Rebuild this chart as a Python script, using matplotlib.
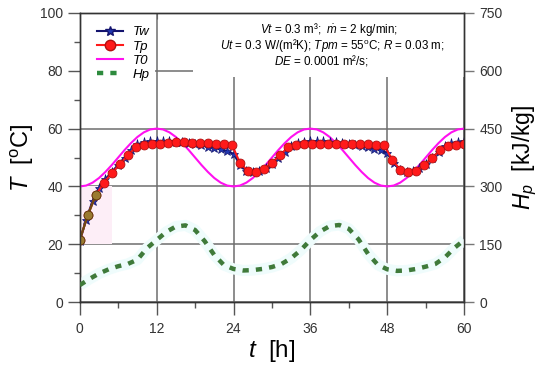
"""Tw / Tp / T0 temperatures and Hp enthalpy over 60 h (twin y axes)."""

import numpy as np
import matplotlib
matplotlib.use("Agg")
import matplotlib.pyplot as plt
from matplotlib.lines import Line2D
from matplotlib.patches import Rectangle

plt.rcParams["font.family"] = ["Liberation Sans", "DejaVu Sans"]
plt.rcParams["mathtext.fontset"] = "custom"
plt.rcParams["mathtext.rm"] = "Liberation Sans"
plt.rcParams["mathtext.it"] = "Liberation Sans:italic"

# --- data ----------------------------------------------------------------
t_w = np.arange(0, 61, 1.0)                     # h
Tw = [21.0, 28.5, 35.0, 39.5, 42.5, 45.0, 47.5, 50.0, 52.5, 54.5,
      55.3, 55.6, 55.7, 55.7, 55.6, 55.4, 55.2, 55.0, 54.6, 54.2,
      53.8, 53.3, 52.8, 52.2, 51.3, 47.5, 45.5, 45.0, 45.2, 46.2,
      47.8, 49.8, 52.0, 54.0, 55.0, 55.4, 55.6, 55.7, 55.6, 55.5,
      55.3, 55.1, 54.8, 54.4, 54.0, 53.6, 53.1, 52.5, 51.6, 48.0,
      45.7, 45.0, 45.2, 46.2, 47.8, 49.8, 52.0, 54.0, 55.0, 55.4, 55.6]

t_p = np.arange(0, 60.01, 1.25)
Tp = [21.5, 30.0, 37.0, 41.2, 44.6, 47.6, 50.8, 53.6, 54.3, 54.6,
      54.8, 55.0, 55.2, 55.2, 55.1, 55.0, 54.9, 54.7, 54.6, 54.4,
      48.2, 45.3, 45.0, 46.0, 48.2, 50.8, 53.6, 54.4, 54.6, 54.7,
      54.8, 54.8, 54.8, 54.8, 54.7, 54.6, 54.5, 54.4, 54.3, 49.3,
      45.8, 45.0, 45.5, 47.3, 50.0, 52.5, 54.0, 54.3, 54.5]

t_0 = np.arange(0, 61, 1.0)
T0 = [40.0, 40.3, 41.3, 42.9, 45.0, 47.4, 50.0, 52.6, 55.0, 57.1,
      58.7, 59.7, 60.0, 59.7, 58.7, 57.1, 55.0, 52.6, 50.0, 47.4,
      45.0, 42.9, 41.3, 40.3, 40.0, 40.3, 41.3, 42.9, 45.0, 47.4,
      50.0, 52.6, 55.0, 57.1, 58.7, 59.7, 60.0, 59.7, 58.7, 57.1,
      55.0, 52.6, 50.0, 47.4, 45.0, 42.9, 41.3, 40.3, 40.0, 40.3,
      41.3, 42.9, 45.0, 47.4, 50.0, 52.6, 55.0, 57.1, 58.7, 59.7, 60.0]

t_h = np.arange(0, 60.01, 1.5)
Hp = [44, 60, 74, 85, 93, 99, 110, 140, 161, 182,
      196, 199, 187, 158, 122, 96, 86, 82, 83, 86,
      91, 99, 114, 135, 161, 183, 197, 200, 190, 163,
      125, 97, 85, 81, 82, 86, 92, 99, 116, 141, 161]   # kJ/kg

NOTE_LINES = ["$Vt$ = 0.3 m³;  $\\dot{m}$ = 2 kg/min;",
              "$Ut$ = 0.3 W/(m²K); $Tpm$ = 55$^{\\mathrm{o}}$C; $R$ = 0.03 m;",
              "$DE$ = 0.0001 m²/s;"]
NOTE_XY = [(0.648, 0.942), (0.656, 0.889), (0.630, 0.834)]   # axes coords

NAVY, STAR = "#14146e", "#2036b0"
RED, REDE = "#ff1a1a", "#b01010"
MAG = "#ff10f0"
GREEN = "#3f7a3a"
GRID = "#6e6e6e"
TXT = "#333333"

fig = plt.figure(figsize=(5.5, 3.8), dpi=100)
ax = fig.add_axes([0.145, 0.205, 0.699, 0.761])
ax2 = ax.twinx()

# faint highlight blocks seen in the original
ax.add_patch(Rectangle((0, 20), 5, 20, color="#fdeef7", lw=0, zorder=0.8))
ax2.plot(t_h, Hp, color="#effcfc", lw=8, solid_capstyle="butt", zorder=1)

ax.plot(t_0, T0, color=MAG, lw=1.5, zorder=3)
ax.plot(t_w, Tw, color=NAVY, lw=1.5, marker="*", ms=6.5, mfc=STAR, mec=NAVY,
        mew=0.5, zorder=4)
ax.plot(t_p, Tp, color=RED, lw=1.5, marker="o", ms=6.4, mfc=RED, mec=REDE,
        mew=0.6, zorder=5)
ax.plot(t_p[:3], Tp[:3], color="#6b4a14", lw=1.6, marker="o", ms=6.4,
        mfc="#9a7a30", mec="#5a3a0a", mew=0.6, zorder=6)

ax2.plot(t_h, Hp, color=GREEN, lw=3.2, ls=(0, (1.4, 1.6)), zorder=3)

# white boxes behind legend and note (they hide the grid)
ax.add_patch(Rectangle((0, 0.76), 0.197, 0.24, transform=ax.transAxes,
                       color="white", lw=0, zorder=1))
ax.add_patch(Rectangle((0.294, 0.78), 0.706, 0.22, transform=ax.transAxes,
                       color="white", lw=0, zorder=1))
ax.set_axisbelow(True)

ax.set_xlim(0, 60)
ax.set_ylim(0, 100)
ax2.set_ylim(0, 750)
ax.set_xticks(range(0, 61, 12))
ax.set_xticks(range(6, 60, 12), minor=True)
ax.set_yticks(range(0, 101, 20))
ax.set_yticks(range(10, 100, 20), minor=True)
ax2.set_yticks(range(0, 751, 150))

ax.grid(True, which="major", color=GRID, lw=1.1)
ax.tick_params(axis="both", which="major", direction="out", length=9,
               width=1.0, color="#555555", labelsize=10, labelcolor=TXT,
               pad=3)
ax.tick_params(axis="both", which="minor", direction="out", length=4,
               width=1.0, color="#555555")
ax.tick_params(axis="x", which="major", pad=5)
ax2.tick_params(axis="y", direction="out", length=7, width=1.0,
                color="#777777", labelsize=10, labelcolor=TXT, pad=4)
top = ax.secondary_xaxis("top")
top.set_xticks(range(0, 61, 12))
top.tick_params(direction="in", length=4, labeltop=False, color="#555555")
for sp in list(ax.spines.values()) + list(ax2.spines.values()):
    sp.set_color("#333333")
    sp.set_linewidth(1.0)
top.spines["top"].set_visible(False)

ax.set_xlabel("$t$  [h]", fontsize=17.5, labelpad=2)
ax.set_ylabel("$T$  [$^{\\mathrm{o}}$C]", fontsize=17, labelpad=3)
ax2.set_ylabel("$H_p$  [kJ/kg]", fontsize=16.5, labelpad=6)

for line, (x, y) in zip(NOTE_LINES, NOTE_XY):
    ax.text(x, y, line, transform=ax.transAxes, ha="center", va="center",
            fontsize=8.4, zorder=6)

handles = [
    Line2D([], [], color=NAVY, lw=1.5, marker="*", ms=7.5, mfc=STAR, mec=NAVY),
    Line2D([], [], color=RED, lw=1.5, marker="o", ms=7.5, mfc=RED, mec=REDE),
    Line2D([], [], color=MAG, lw=1.5),
    Line2D([], [], color="#2e8b3e", lw=3.2, ls=(0, (1.4, 1.6))),
]
leg = ax2.legend(handles, ["Tw", "Tp", "T0", "Hp"], loc="upper left",
                 bbox_to_anchor=(0.01, 1.0), frameon=False, fontsize=9.5,
                 handlelength=2.0, handletextpad=0.7, labelspacing=0.15,
                 borderaxespad=0.6)
for txt in leg.get_texts():
    txt.set_fontstyle("italic")

fig.savefig("out.png", dpi=100)
